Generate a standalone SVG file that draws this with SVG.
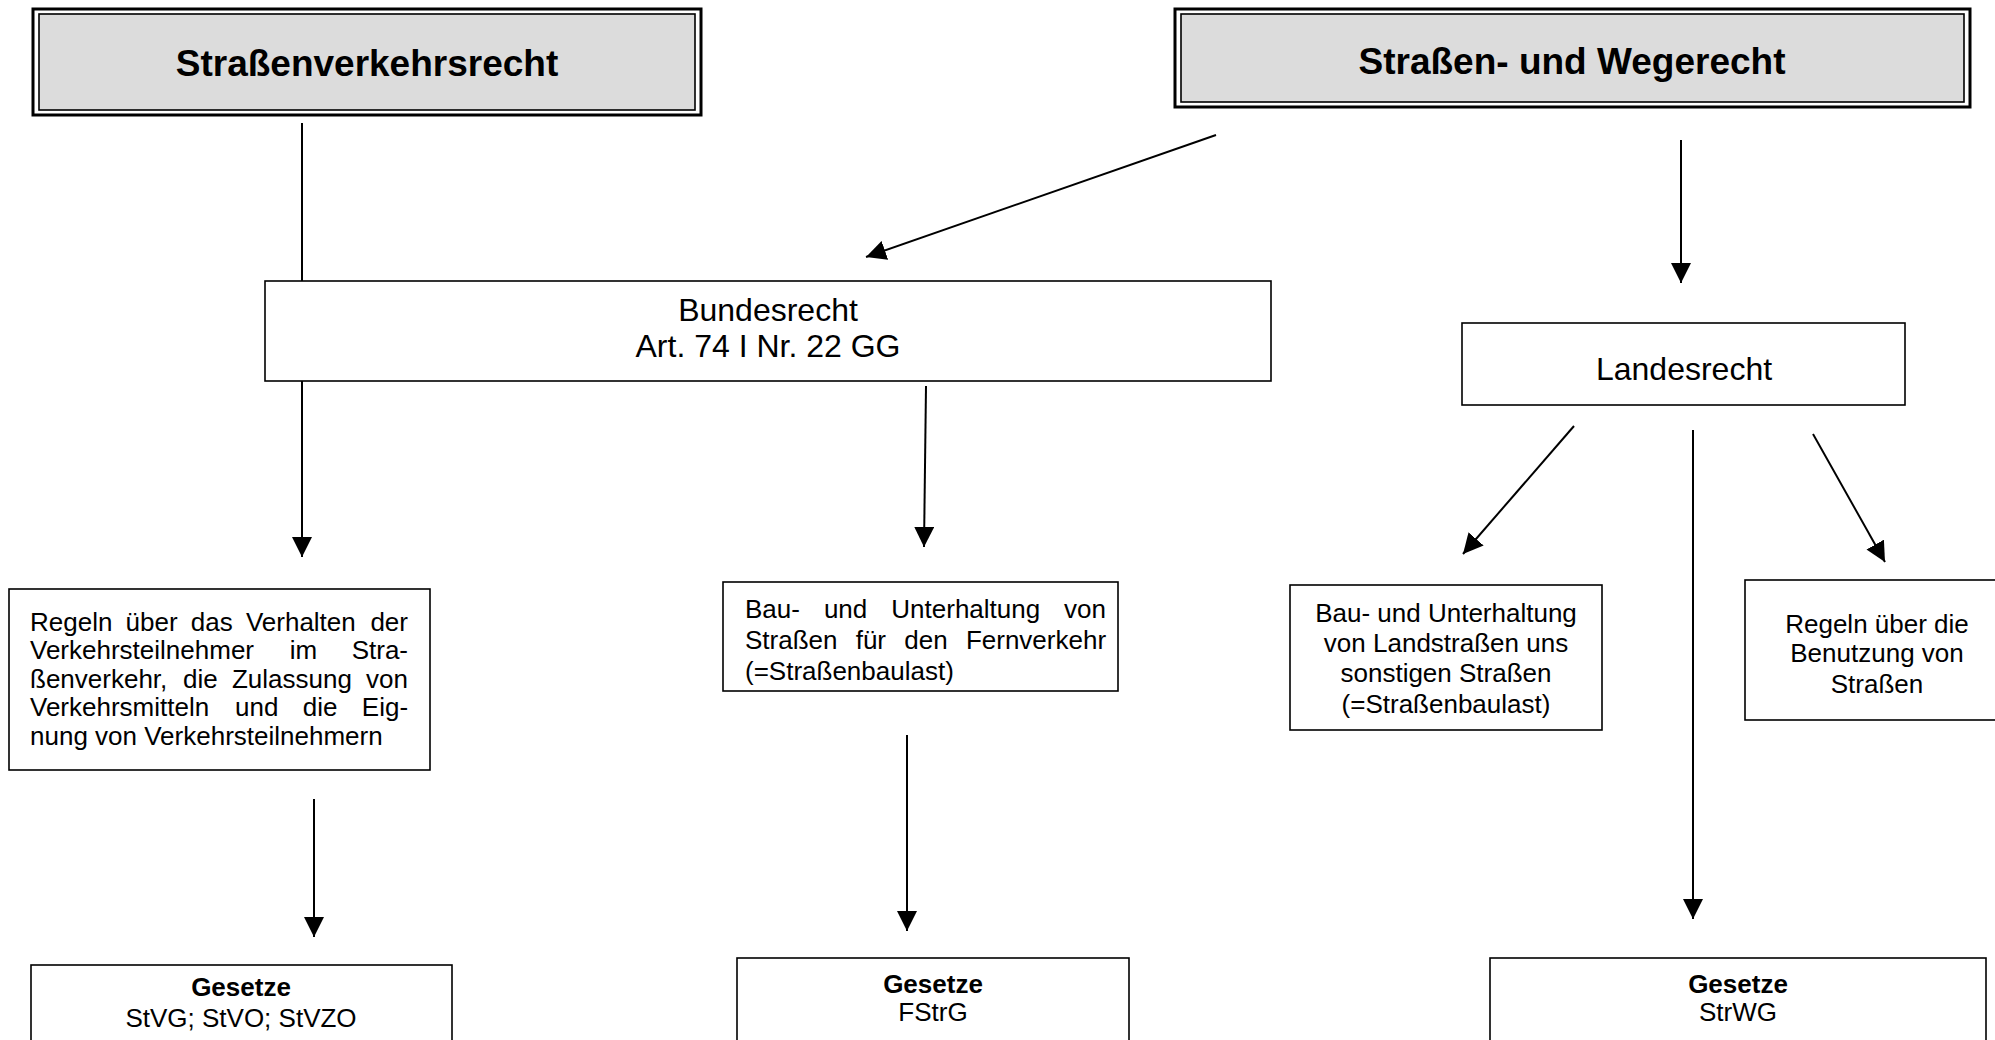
<svg xmlns="http://www.w3.org/2000/svg" width="1995" height="1040" viewBox="0 0 1995 1040">
<style>
text{font-family:"Liberation Sans",Arial,sans-serif;fill:#000}
.t{font-size:37px;font-weight:bold;text-anchor:middle}
.m{font-size:32px;text-anchor:middle}
.b{font-size:26px}
.c{text-anchor:middle}
.g{font-weight:bold}
.box{fill:#fff;stroke:#000;stroke-width:1.6}
.outer{fill:#fff;stroke:#000;stroke-width:3}
.inner{fill:#dcdcdc;stroke:#000;stroke-width:1.6}
.ln{stroke:#000;stroke-width:2;fill:none}
.ar{marker-end:url(#ah)}
</style>
<defs>
<marker id="ah" viewBox="0 0 20 20" refX="20" refY="10" markerWidth="20" markerHeight="20" markerUnits="userSpaceOnUse" orient="auto">
<path d="M0,0 L20,10 L0,20 z" fill="#000"/>
</marker>
</defs>

<g id="connectors">
<line class="ln" x1="302" y1="123" x2="302" y2="281"/>
<line class="ln ar" x1="302" y1="381" x2="302" y2="557"/>
<line class="ln ar" x1="1216" y1="135" x2="866" y2="257"/>
<line class="ln ar" x1="1681" y1="140" x2="1681" y2="283"/>
<line class="ln ar" x1="926" y1="386" x2="924" y2="547"/>
<line class="ln ar" x1="314" y1="799" x2="314" y2="937"/>
<line class="ln ar" x1="907" y1="735" x2="907" y2="931"/>
<line class="ln ar" x1="1574" y1="426" x2="1463" y2="554"/>
<line class="ln ar" x1="1693" y1="430" x2="1693" y2="919"/>
<line class="ln ar" x1="1813" y1="434" x2="1885" y2="562"/>
</g>

<g id="strassenverkehrsrecht">
<rect class="outer" x="33" y="9" width="668" height="106"/>
<rect class="inner" x="39" y="14" width="656" height="96"/>
<text class="t" x="367" y="76">Straßenverkehrsrecht</text>
</g>

<g id="strassen-wegerecht">
<rect class="outer" x="1175" y="9" width="795" height="98"/>
<rect class="inner" x="1181" y="14" width="783" height="88"/>
<text class="t" x="1572" y="74">Straßen- und Wegerecht</text>
</g>

<g id="bundesrecht">
<rect class="box" x="265" y="281" width="1006" height="100"/>
<text class="m" x="768" y="321">Bundesrecht</text>
<text class="m" x="768" y="357">Art. 74 I Nr. 22 GG</text>
</g>

<g id="landesrecht">
<rect class="box" x="1462" y="323" width="443" height="82"/>
<text class="m" x="1684" y="380">Landesrecht</text>
</g>

<g id="regeln-verhalten">
<rect class="box" x="9" y="589" width="421" height="181"/>
<text class="b" y="631"><tspan x="30">Regeln</tspan><tspan x="125.6">über</tspan><tspan x="190.8">das</tspan><tspan x="245.9">Verhalten</tspan><tspan x="370.4">der</tspan></text>
<text class="b" y="659"><tspan x="30">Verkehrsteilnehmer</tspan><tspan x="289.8">im</tspan><tspan x="351.7">Stra-</tspan></text>
<text class="b" y="688"><tspan x="30">ßenverkehr,</tspan><tspan x="183">die</tspan><tspan x="231.9">Zulassung</tspan><tspan x="366.1">von</tspan></text>
<text class="b" y="716"><tspan x="30">Verkehrsmitteln</tspan><tspan x="235">und</tspan><tspan x="302.7">die</tspan><tspan x="361.8">Eig-</tspan></text>
<text class="b" x="30" y="745">nung von Verkehrsteilnehmern</text>
</g>

<g id="bau-fernverkehr">
<rect class="box" x="723" y="582" width="395" height="109"/>
<text class="b" y="618"><tspan x="745">Bau-</tspan><tspan x="823.9">und</tspan><tspan x="891.3">Unterhaltung</tspan><tspan x="1064.1">von</tspan></text>
<text class="b" y="649"><tspan x="745">Straßen</tspan><tspan x="855.7">für</tspan><tspan x="904.3">den</tspan><tspan x="965.9">Fernverkehr</tspan></text>
<text class="b" x="745" y="680">(=Straßenbaulast)</text>
</g>

<g id="bau-land">
<rect class="box" x="1290" y="585" width="312" height="145"/>
<text class="b c" x="1446" y="622">Bau- und Unterhaltung</text>
<text class="b c" x="1446" y="652">von Landstraßen uns</text>
<text class="b c" x="1446" y="682">sonstigen Straßen</text>
<text class="b c" x="1446" y="713">(=Straßenbaulast)</text>
</g>

<g id="regeln-benutzung">
<rect class="box" x="1745" y="580" width="265" height="140"/>
<text class="b c" x="1877" y="633">Regeln über die</text>
<text class="b c" x="1877" y="662">Benutzung von</text>
<text class="b c" x="1877" y="693">Straßen</text>
</g>

<g id="gesetze-1">
<rect class="box" x="31" y="965" width="421" height="100"/>
<text class="b c g" x="241" y="996">Gesetze</text>
<text class="b c" x="241" y="1027">StVG; StVO; StVZO</text>
</g>

<g id="gesetze-2">
<rect class="box" x="737" y="958" width="392" height="100"/>
<text class="b c g" x="933" y="993">Gesetze</text>
<text class="b c" x="933" y="1021">FStrG</text>
</g>

<g id="gesetze-3">
<rect class="box" x="1490" y="958" width="496" height="100"/>
<text class="b c g" x="1738" y="993">Gesetze</text>
<text class="b c" x="1738" y="1021">StrWG</text>
</g>
</svg>
